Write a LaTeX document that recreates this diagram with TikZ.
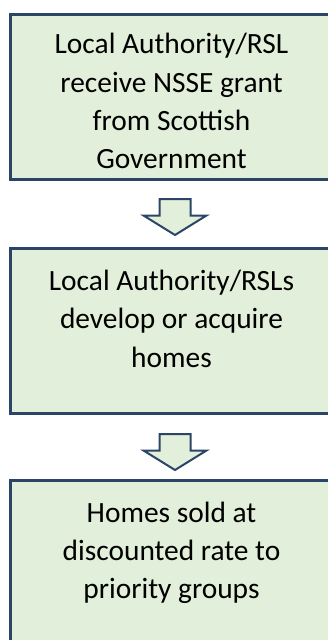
\documentclass[tikz,border=0pt]{standalone}
\usepackage{fontspec}
\setmainfont{Carlito}
\definecolor{boxfill}{HTML}{E2EFDA}
\definecolor{boxline}{HTML}{2B4566}
\begin{document}
\begin{tikzpicture}[x=1pt,y=-1pt,
  box/.style={draw=boxline,fill=boxfill,line width=3pt,rectangle,inner sep=0pt,outer sep=0pt,anchor=north west,minimum width=322.5pt},
  txt/.style={anchor=base,inner sep=0pt,font=\fontsize{29.4}{34}\selectfont},
  blockarrow/.style={draw=boxline,fill=boxfill,line width=2pt,line join=miter}]
\useasboundingbox (0,0) rectangle (328,640);
\node[box,minimum height=164.5pt] (b1) at (10.5,14.5) {};
\node[box,minimum height=165.2pt] (b2) at (10.5,248.3) {};
\node[box,minimum height=180pt] (b3) at (10.5,480.3) {};
\node[txt] (t11) at (171.5,53) {Local Authority/RSL};
\node[txt] (t12) at (171.5,92) {receive NSSE grant};
\node[txt] (t13) at (171.5,130) {from Scottish};
\node[txt] (t14) at (171.5,168) {Government};
\node[txt] (t21) at (171.5,290) {Local Authority/RSLs};
\node[txt] (t22) at (171.5,328) {develop or acquire};
\node[txt] (t23) at (171.5,367) {homes};
\node[txt] (t31) at (171.5,522) {Homes sold at};
\node[txt] (t32) at (171.5,560) {discounted rate to};
\node[txt] (t33) at (171.5,598) {priority groups};
\coordinate (a1) at (175,199);
\coordinate (a2) at (175,434);
\foreach \a in {a1,a2}{
  \draw[blockarrow] (\a) ++(-15.5,0) -- ++(0,16.5) -- ++(-16,0) -- ++(31.5,19.5) -- ++(31.5,-19.5) -- ++(-16,0) -- ++(0,-16.5) -- cycle;
}
\end{tikzpicture}
\end{document}
